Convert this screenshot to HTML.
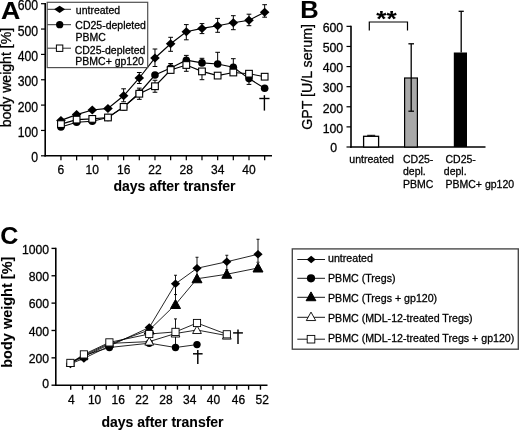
<!DOCTYPE html>
<html><head><meta charset="utf-8"><title>Figure</title>
<style>
html,body{margin:0;padding:0;background:#fff;}
body{width:520px;height:431px;overflow:hidden;font-family:"Liberation Sans",sans-serif;}
svg{display:block;filter:grayscale(1) blur(0.3px);}
svg text{font-family:"Liberation Sans",sans-serif;fill:#000;stroke:#000;stroke-width:0.28px;}
svg text[font-weight=bold]{stroke-width:0.08px;}
</style></head>
<body>
<svg width="520" height="431" viewBox="0 0 520 431">
<rect x="0" y="0" width="520" height="431" fill="#fff"/>
<line x1="45.20" y1="3.10" x2="45.20" y2="156.50" stroke="#000" stroke-width="1.6"/>
<line x1="44.40" y1="155.80" x2="272.00" y2="155.80" stroke="#000" stroke-width="1.6"/>
<line x1="41.00" y1="155.80" x2="45.20" y2="155.80" stroke="#000" stroke-width="1.2"/>
<text transform="translate(38.10,162.30) scale(0.875,1)" font-size="14" text-anchor="end">0</text>
<line x1="41.00" y1="130.45" x2="45.20" y2="130.45" stroke="#000" stroke-width="1.2"/>
<text transform="translate(38.10,136.95) scale(0.875,1)" font-size="14" text-anchor="end">100</text>
<line x1="41.00" y1="105.10" x2="45.20" y2="105.10" stroke="#000" stroke-width="1.2"/>
<text transform="translate(38.10,111.60) scale(0.875,1)" font-size="14" text-anchor="end">200</text>
<line x1="41.00" y1="79.75" x2="45.20" y2="79.75" stroke="#000" stroke-width="1.2"/>
<text transform="translate(38.10,86.25) scale(0.875,1)" font-size="14" text-anchor="end">300</text>
<line x1="41.00" y1="54.40" x2="45.20" y2="54.40" stroke="#000" stroke-width="1.2"/>
<text transform="translate(38.10,60.90) scale(0.875,1)" font-size="14" text-anchor="end">400</text>
<line x1="41.00" y1="29.05" x2="45.20" y2="29.05" stroke="#000" stroke-width="1.2"/>
<text transform="translate(38.10,35.55) scale(0.875,1)" font-size="14" text-anchor="end">500</text>
<line x1="41.00" y1="3.70" x2="45.20" y2="3.70" stroke="#000" stroke-width="1.2"/>
<text transform="translate(38.10,10.20) scale(0.875,1)" font-size="14" text-anchor="end">600</text>
<line x1="60.95" y1="155.80" x2="60.95" y2="160.30" stroke="#000" stroke-width="1.25"/>
<line x1="76.62" y1="155.80" x2="76.62" y2="160.30" stroke="#000" stroke-width="1.25"/>
<line x1="92.29" y1="155.80" x2="92.29" y2="160.30" stroke="#000" stroke-width="1.25"/>
<line x1="107.96" y1="155.80" x2="107.96" y2="160.30" stroke="#000" stroke-width="1.25"/>
<line x1="123.63" y1="155.80" x2="123.63" y2="160.30" stroke="#000" stroke-width="1.25"/>
<line x1="139.30" y1="155.80" x2="139.30" y2="160.30" stroke="#000" stroke-width="1.25"/>
<line x1="154.97" y1="155.80" x2="154.97" y2="160.30" stroke="#000" stroke-width="1.25"/>
<line x1="170.64" y1="155.80" x2="170.64" y2="160.30" stroke="#000" stroke-width="1.25"/>
<line x1="186.31" y1="155.80" x2="186.31" y2="160.30" stroke="#000" stroke-width="1.25"/>
<line x1="201.98" y1="155.80" x2="201.98" y2="160.30" stroke="#000" stroke-width="1.25"/>
<line x1="217.65" y1="155.80" x2="217.65" y2="160.30" stroke="#000" stroke-width="1.25"/>
<line x1="233.32" y1="155.80" x2="233.32" y2="160.30" stroke="#000" stroke-width="1.25"/>
<line x1="248.99" y1="155.80" x2="248.99" y2="160.30" stroke="#000" stroke-width="1.25"/>
<line x1="264.66" y1="155.80" x2="264.66" y2="160.30" stroke="#000" stroke-width="1.25"/>
<text transform="translate(60.95,173.90) scale(0.9,1)" font-size="13.4" text-anchor="middle">6</text>
<text transform="translate(92.29,173.90) scale(0.9,1)" font-size="13.4" text-anchor="middle">10</text>
<text transform="translate(123.63,173.90) scale(0.9,1)" font-size="13.4" text-anchor="middle">16</text>
<text transform="translate(154.97,173.90) scale(0.9,1)" font-size="13.4" text-anchor="middle">22</text>
<text transform="translate(186.31,173.90) scale(0.9,1)" font-size="13.4" text-anchor="middle">28</text>
<text transform="translate(217.65,173.90) scale(0.9,1)" font-size="13.4" text-anchor="middle">34</text>
<text transform="translate(248.99,173.90) scale(0.9,1)" font-size="13.4" text-anchor="middle">40</text>
<text x="174.50" y="191.40" font-size="14" text-anchor="middle" font-weight="bold" >days after transfer</text>
<text x="11.10" y="77.60" font-size="14.1" text-anchor="middle" transform="rotate(-90 11.1 77.6)">body weight [%]</text>
<text transform="translate(1.00,18.60) scale(1.09,1)" font-size="24.5" text-anchor="start" font-weight="bold">A</text>
<polyline points="60.95,120.40 76.62,114.60 92.29,110.00 107.96,108.40 123.63,95.80 139.30,78.00 154.97,58.00 170.64,43.80 186.31,31.80 201.98,28.40 217.65,25.80 233.32,22.70 248.99,20.20 264.66,12.20" fill="none" stroke="#000" stroke-width="1.15"/>
<polyline points="60.95,127.00 76.62,122.30 92.29,121.20 107.96,117.50 123.63,107.00 139.30,93.00 154.97,75.00 170.64,68.00 186.31,60.20 201.98,62.90 217.65,64.00 233.32,67.30 248.99,78.60 264.66,88.20" fill="none" stroke="#000" stroke-width="1.15"/>
<polyline points="60.95,124.10 76.62,119.60 92.29,118.90 107.96,117.50 123.63,106.90 139.30,93.75 154.97,86.25 170.64,70.00 186.31,65.00 201.98,71.40 217.65,75.60 233.32,72.50 248.99,73.70 264.66,76.70" fill="none" stroke="#000" stroke-width="1.15"/>
<line x1="123.63" y1="95.80" x2="123.63" y2="88.80" stroke="#000" stroke-width="1.0"/>
<line x1="121.28" y1="88.80" x2="125.98" y2="88.80" stroke="#000" stroke-width="1.0"/>
<line x1="123.63" y1="95.80" x2="123.63" y2="101.80" stroke="#000" stroke-width="1.0"/>
<line x1="121.28" y1="101.80" x2="125.98" y2="101.80" stroke="#000" stroke-width="1.0"/>
<line x1="139.30" y1="78.00" x2="139.30" y2="72.50" stroke="#000" stroke-width="1.0"/>
<line x1="136.95" y1="72.50" x2="141.65" y2="72.50" stroke="#000" stroke-width="1.0"/>
<line x1="139.30" y1="78.00" x2="139.30" y2="83.50" stroke="#000" stroke-width="1.0"/>
<line x1="136.95" y1="83.50" x2="141.65" y2="83.50" stroke="#000" stroke-width="1.0"/>
<line x1="154.97" y1="58.00" x2="154.97" y2="49.00" stroke="#000" stroke-width="1.0"/>
<line x1="152.62" y1="49.00" x2="157.32" y2="49.00" stroke="#000" stroke-width="1.0"/>
<line x1="154.97" y1="58.00" x2="154.97" y2="66.50" stroke="#000" stroke-width="1.0"/>
<line x1="152.62" y1="66.50" x2="157.32" y2="66.50" stroke="#000" stroke-width="1.0"/>
<line x1="170.64" y1="43.80" x2="170.64" y2="37.30" stroke="#000" stroke-width="1.0"/>
<line x1="168.29" y1="37.30" x2="172.99" y2="37.30" stroke="#000" stroke-width="1.0"/>
<line x1="170.64" y1="43.80" x2="170.64" y2="51.30" stroke="#000" stroke-width="1.0"/>
<line x1="168.29" y1="51.30" x2="172.99" y2="51.30" stroke="#000" stroke-width="1.0"/>
<line x1="186.31" y1="31.80" x2="186.31" y2="24.60" stroke="#000" stroke-width="1.0"/>
<line x1="183.96" y1="24.60" x2="188.66" y2="24.60" stroke="#000" stroke-width="1.0"/>
<line x1="186.31" y1="31.80" x2="186.31" y2="39.80" stroke="#000" stroke-width="1.0"/>
<line x1="183.96" y1="39.80" x2="188.66" y2="39.80" stroke="#000" stroke-width="1.0"/>
<line x1="201.98" y1="28.40" x2="201.98" y2="23.60" stroke="#000" stroke-width="1.0"/>
<line x1="199.63" y1="23.60" x2="204.33" y2="23.60" stroke="#000" stroke-width="1.0"/>
<line x1="201.98" y1="28.40" x2="201.98" y2="33.60" stroke="#000" stroke-width="1.0"/>
<line x1="199.63" y1="33.60" x2="204.33" y2="33.60" stroke="#000" stroke-width="1.0"/>
<line x1="217.65" y1="25.80" x2="217.65" y2="18.40" stroke="#000" stroke-width="1.0"/>
<line x1="215.30" y1="18.40" x2="220.00" y2="18.40" stroke="#000" stroke-width="1.0"/>
<line x1="217.65" y1="25.80" x2="217.65" y2="32.30" stroke="#000" stroke-width="1.0"/>
<line x1="215.30" y1="32.30" x2="220.00" y2="32.30" stroke="#000" stroke-width="1.0"/>
<line x1="233.32" y1="22.70" x2="233.32" y2="15.70" stroke="#000" stroke-width="1.0"/>
<line x1="230.97" y1="15.70" x2="235.67" y2="15.70" stroke="#000" stroke-width="1.0"/>
<line x1="233.32" y1="22.70" x2="233.32" y2="29.70" stroke="#000" stroke-width="1.0"/>
<line x1="230.97" y1="29.70" x2="235.67" y2="29.70" stroke="#000" stroke-width="1.0"/>
<line x1="248.99" y1="20.20" x2="248.99" y2="14.20" stroke="#000" stroke-width="1.0"/>
<line x1="246.64" y1="14.20" x2="251.34" y2="14.20" stroke="#000" stroke-width="1.0"/>
<line x1="248.99" y1="20.20" x2="248.99" y2="25.70" stroke="#000" stroke-width="1.0"/>
<line x1="246.64" y1="25.70" x2="251.34" y2="25.70" stroke="#000" stroke-width="1.0"/>
<line x1="264.66" y1="12.20" x2="264.66" y2="4.70" stroke="#000" stroke-width="1.0"/>
<line x1="262.31" y1="4.70" x2="267.01" y2="4.70" stroke="#000" stroke-width="1.0"/>
<line x1="264.66" y1="12.20" x2="264.66" y2="17.20" stroke="#000" stroke-width="1.0"/>
<line x1="262.31" y1="17.20" x2="267.01" y2="17.20" stroke="#000" stroke-width="1.0"/>
<line x1="170.64" y1="68.00" x2="170.64" y2="63.50" stroke="#000" stroke-width="1.0"/>
<line x1="168.29" y1="63.50" x2="172.99" y2="63.50" stroke="#000" stroke-width="1.0"/>
<line x1="186.31" y1="60.20" x2="186.31" y2="55.40" stroke="#000" stroke-width="1.0"/>
<line x1="183.96" y1="55.40" x2="188.66" y2="55.40" stroke="#000" stroke-width="1.0"/>
<line x1="201.98" y1="62.90" x2="201.98" y2="58.30" stroke="#000" stroke-width="1.0"/>
<line x1="199.63" y1="58.30" x2="204.33" y2="58.30" stroke="#000" stroke-width="1.0"/>
<line x1="217.65" y1="64.00" x2="217.65" y2="52.30" stroke="#000" stroke-width="1.0"/>
<line x1="215.30" y1="52.30" x2="220.00" y2="52.30" stroke="#000" stroke-width="1.0"/>
<line x1="233.32" y1="67.30" x2="233.32" y2="58.70" stroke="#000" stroke-width="1.0"/>
<line x1="230.97" y1="58.70" x2="235.67" y2="58.70" stroke="#000" stroke-width="1.0"/>
<line x1="248.99" y1="78.60" x2="248.99" y2="84.40" stroke="#000" stroke-width="1.0"/>
<line x1="246.64" y1="84.40" x2="251.34" y2="84.40" stroke="#000" stroke-width="1.0"/>
<line x1="139.30" y1="93.75" x2="139.30" y2="88.15" stroke="#000" stroke-width="1.0"/>
<line x1="136.95" y1="88.15" x2="141.65" y2="88.15" stroke="#000" stroke-width="1.0"/>
<line x1="139.30" y1="93.75" x2="139.30" y2="99.35" stroke="#000" stroke-width="1.0"/>
<line x1="136.95" y1="99.35" x2="141.65" y2="99.35" stroke="#000" stroke-width="1.0"/>
<line x1="154.97" y1="86.25" x2="154.97" y2="80.25" stroke="#000" stroke-width="1.0"/>
<line x1="152.62" y1="80.25" x2="157.32" y2="80.25" stroke="#000" stroke-width="1.0"/>
<line x1="154.97" y1="86.25" x2="154.97" y2="92.25" stroke="#000" stroke-width="1.0"/>
<line x1="152.62" y1="92.25" x2="157.32" y2="92.25" stroke="#000" stroke-width="1.0"/>
<line x1="186.31" y1="65.00" x2="186.31" y2="71.30" stroke="#000" stroke-width="1.0"/>
<line x1="183.96" y1="71.30" x2="188.66" y2="71.30" stroke="#000" stroke-width="1.0"/>
<line x1="201.98" y1="71.40" x2="201.98" y2="79.70" stroke="#000" stroke-width="1.0"/>
<line x1="199.63" y1="79.70" x2="204.33" y2="79.70" stroke="#000" stroke-width="1.0"/>
<polygon points="56.15,120.40 60.95,115.89 65.75,120.40 60.95,124.91" fill="#000"/>
<polygon points="71.82,114.60 76.62,110.09 81.42,114.60 76.62,119.11" fill="#000"/>
<polygon points="87.49,110.00 92.29,105.49 97.09,110.00 92.29,114.51" fill="#000"/>
<polygon points="103.16,108.40 107.96,103.89 112.76,108.40 107.96,112.91" fill="#000"/>
<polygon points="118.83,95.80 123.63,91.29 128.43,95.80 123.63,100.31" fill="#000"/>
<polygon points="134.50,78.00 139.30,73.49 144.10,78.00 139.30,82.51" fill="#000"/>
<polygon points="150.17,58.00 154.97,53.49 159.77,58.00 154.97,62.51" fill="#000"/>
<polygon points="165.84,43.80 170.64,39.29 175.44,43.80 170.64,48.31" fill="#000"/>
<polygon points="181.51,31.80 186.31,27.29 191.11,31.80 186.31,36.31" fill="#000"/>
<polygon points="197.18,28.40 201.98,23.89 206.78,28.40 201.98,32.91" fill="#000"/>
<polygon points="212.85,25.80 217.65,21.29 222.45,25.80 217.65,30.31" fill="#000"/>
<polygon points="228.52,22.70 233.32,18.19 238.12,22.70 233.32,27.21" fill="#000"/>
<polygon points="244.19,20.20 248.99,15.69 253.79,20.20 248.99,24.71" fill="#000"/>
<polygon points="259.86,12.20 264.66,7.69 269.46,12.20 264.66,16.71" fill="#000"/>
<circle cx="60.95" cy="127.00" r="3.8" fill="#000"/>
<circle cx="76.62" cy="122.30" r="3.8" fill="#000"/>
<circle cx="92.29" cy="121.20" r="3.8" fill="#000"/>
<circle cx="107.96" cy="117.50" r="3.8" fill="#000"/>
<circle cx="123.63" cy="107.00" r="3.8" fill="#000"/>
<circle cx="139.30" cy="93.00" r="3.8" fill="#000"/>
<circle cx="154.97" cy="75.00" r="3.8" fill="#000"/>
<circle cx="170.64" cy="68.00" r="3.8" fill="#000"/>
<circle cx="186.31" cy="60.20" r="3.8" fill="#000"/>
<circle cx="201.98" cy="62.90" r="3.8" fill="#000"/>
<circle cx="217.65" cy="64.00" r="3.8" fill="#000"/>
<circle cx="233.32" cy="67.30" r="3.8" fill="#000"/>
<circle cx="248.99" cy="78.60" r="3.8" fill="#000"/>
<circle cx="264.66" cy="88.20" r="3.8" fill="#000"/>
<rect x="57.60" y="120.75" width="6.7" height="6.7" fill="#fff" stroke="#000" stroke-width="1.1"/>
<rect x="73.27" y="116.25" width="6.7" height="6.7" fill="#fff" stroke="#000" stroke-width="1.1"/>
<rect x="88.94" y="115.55" width="6.7" height="6.7" fill="#fff" stroke="#000" stroke-width="1.1"/>
<rect x="104.61" y="114.15" width="6.7" height="6.7" fill="#fff" stroke="#000" stroke-width="1.1"/>
<rect x="120.28" y="103.55" width="6.7" height="6.7" fill="#fff" stroke="#000" stroke-width="1.1"/>
<rect x="135.95" y="90.40" width="6.7" height="6.7" fill="#fff" stroke="#000" stroke-width="1.1"/>
<rect x="151.62" y="82.90" width="6.7" height="6.7" fill="#fff" stroke="#000" stroke-width="1.1"/>
<rect x="167.29" y="66.65" width="6.7" height="6.7" fill="#fff" stroke="#000" stroke-width="1.1"/>
<rect x="182.96" y="61.65" width="6.7" height="6.7" fill="#fff" stroke="#000" stroke-width="1.1"/>
<rect x="198.63" y="68.05" width="6.7" height="6.7" fill="#fff" stroke="#000" stroke-width="1.1"/>
<rect x="214.30" y="72.25" width="6.7" height="6.7" fill="#fff" stroke="#000" stroke-width="1.1"/>
<rect x="229.97" y="69.15" width="6.7" height="6.7" fill="#fff" stroke="#000" stroke-width="1.1"/>
<rect x="245.64" y="70.35" width="6.7" height="6.7" fill="#fff" stroke="#000" stroke-width="1.1"/>
<rect x="261.31" y="73.35" width="6.7" height="6.7" fill="#fff" stroke="#000" stroke-width="1.1"/>
<line x1="264.40" y1="95.20" x2="264.40" y2="110.60" stroke="#000" stroke-width="1.4"/>
<line x1="259.30" y1="98.50" x2="269.50" y2="98.50" stroke="#000" stroke-width="1.4"/>
<rect x="47.2" y="2.3" width="100.5" height="65.3" fill="#fff" stroke="#505050" stroke-width="1.2"/>
<line x1="47.50" y1="9.30" x2="71.00" y2="9.30" stroke="#222" stroke-width="0.95"/>
<polygon points="54.10,9.30 59.60,5.70 65.10,9.30 59.60,12.90" fill="#000"/>
<line x1="47.50" y1="24.70" x2="71.00" y2="24.70" stroke="#222" stroke-width="0.95"/>
<circle cx="59.70" cy="24.70" r="3.65" fill="#000"/>
<line x1="47.50" y1="48.20" x2="71.00" y2="48.20" stroke="#222" stroke-width="0.95"/>
<rect x="56.40" y="45.00" width="6.4" height="6.4" fill="#fff" stroke="#000" stroke-width="1.0"/>
<text x="75.80" y="13.90" font-size="10.5" text-anchor="start" >untreated</text>
<text x="75.30" y="28.70" font-size="10.5" text-anchor="start" >CD25-depleted</text>
<text x="75.60" y="41.20" font-size="10.5" text-anchor="start" >PBMC</text>
<text x="74.70" y="54.00" font-size="10.5" text-anchor="start" >CD25-depleted</text>
<text x="75.30" y="65.40" font-size="10.5" text-anchor="start" >PBMC+ gp120</text>
<line x1="351.00" y1="25.75" x2="351.00" y2="147.70" stroke="#000" stroke-width="1.6"/>
<line x1="350.20" y1="147.00" x2="485.50" y2="147.00" stroke="#000" stroke-width="1.6"/>
<line x1="346.50" y1="147.00" x2="351.00" y2="147.00" stroke="#000" stroke-width="1.2"/>
<text x="337.20" y="152.20" font-size="12.3" text-anchor="end" >0</text>
<line x1="346.50" y1="126.89" x2="351.00" y2="126.89" stroke="#000" stroke-width="1.2"/>
<text x="343.20" y="132.69" font-size="12.3" text-anchor="end" >100</text>
<line x1="346.50" y1="106.78" x2="351.00" y2="106.78" stroke="#000" stroke-width="1.2"/>
<text x="343.20" y="112.58" font-size="12.3" text-anchor="end" >200</text>
<line x1="346.50" y1="86.67" x2="351.00" y2="86.67" stroke="#000" stroke-width="1.2"/>
<text x="343.20" y="92.47" font-size="12.3" text-anchor="end" >300</text>
<line x1="346.50" y1="66.57" x2="351.00" y2="66.57" stroke="#000" stroke-width="1.2"/>
<text x="343.20" y="72.37" font-size="12.3" text-anchor="end" >400</text>
<line x1="346.50" y1="46.46" x2="351.00" y2="46.46" stroke="#000" stroke-width="1.2"/>
<text x="343.20" y="52.26" font-size="12.3" text-anchor="end" >500</text>
<line x1="346.50" y1="26.35" x2="351.00" y2="26.35" stroke="#000" stroke-width="1.2"/>
<text x="343.20" y="32.15" font-size="12.3" text-anchor="end" >600</text>
<text x="312.30" y="76.90" font-size="14.2" text-anchor="middle" transform="rotate(-90 312.3 76.9)">GPT [U/L serum]</text>
<text transform="translate(300.30,17.70) scale(1.04,1)" font-size="24.5" text-anchor="start" font-weight="bold">B</text>
<rect x="363.6" y="136.3" width="15" height="10.70" fill="#fff" stroke="#000" stroke-width="1.3"/>
<line x1="371.20" y1="136.30" x2="371.20" y2="135.30" stroke="#000" stroke-width="1"/>
<line x1="367.20" y1="135.30" x2="375.20" y2="135.30" stroke="#000" stroke-width="1"/>
<rect x="404.6" y="78" width="12.8" height="69.00" fill="#a9a9a9" stroke="#000" stroke-width="1.2"/>
<line x1="411.20" y1="78.00" x2="411.20" y2="43.80" stroke="#000" stroke-width="1.3"/>
<line x1="408.40" y1="43.80" x2="414.00" y2="43.80" stroke="#000" stroke-width="1.3"/>
<line x1="411.20" y1="78.00" x2="411.20" y2="111.20" stroke="#000" stroke-width="1.3"/>
<line x1="408.40" y1="111.20" x2="414.00" y2="111.20" stroke="#000" stroke-width="1.3"/>
<rect x="453.8" y="52.5" width="13.2" height="94.50" fill="#000"/>
<line x1="461.20" y1="52.50" x2="461.20" y2="11.30" stroke="#000" stroke-width="1.3"/>
<line x1="458.60" y1="11.30" x2="463.80" y2="11.30" stroke="#000" stroke-width="1.3"/>
<polyline points="369.30,30.50 369.30,22.00 407.50,22.00 407.50,30.50" fill="none" stroke="#000" stroke-width="1.2"/>
<text transform="translate(386.40,26.00) scale(1.22,1)" font-size="21.5" text-anchor="middle" font-weight="bold">**</text>
<text x="349.30" y="162.50" font-size="10.55" text-anchor="start" >untreated</text>
<text x="403.00" y="162.50" font-size="10.5" text-anchor="start" >CD25-</text>
<text x="403.00" y="175.00" font-size="10.5" text-anchor="start" >depl.</text>
<text x="403.00" y="188.00" font-size="10.5" text-anchor="start" >PBMC</text>
<text x="445.50" y="162.50" font-size="10.5" text-anchor="start" >CD25-</text>
<text x="443.80" y="175.00" font-size="10.5" text-anchor="start" >depl.</text>
<text x="445.50" y="188.00" font-size="10.5" text-anchor="start" >PBMC+ gp120</text>
<line x1="55.80" y1="247.80" x2="55.80" y2="385.90" stroke="#000" stroke-width="1.6"/>
<line x1="55.00" y1="385.20" x2="267.50" y2="385.20" stroke="#000" stroke-width="1.6"/>
<line x1="51.50" y1="385.20" x2="55.80" y2="385.20" stroke="#000" stroke-width="1.35"/>
<text x="49.10" y="388.10" font-size="12.2" text-anchor="end" >0</text>
<line x1="51.50" y1="357.84" x2="55.80" y2="357.84" stroke="#000" stroke-width="1.35"/>
<text x="49.10" y="363.04" font-size="12.2" text-anchor="end" >200</text>
<line x1="51.50" y1="330.48" x2="55.80" y2="330.48" stroke="#000" stroke-width="1.35"/>
<text x="49.10" y="335.68" font-size="12.2" text-anchor="end" >400</text>
<line x1="51.50" y1="303.12" x2="55.80" y2="303.12" stroke="#000" stroke-width="1.35"/>
<text x="49.10" y="308.32" font-size="12.2" text-anchor="end" >600</text>
<line x1="51.50" y1="275.76" x2="55.80" y2="275.76" stroke="#000" stroke-width="1.35"/>
<text x="49.10" y="280.96" font-size="12.2" text-anchor="end" >800</text>
<line x1="51.50" y1="248.40" x2="55.80" y2="248.40" stroke="#000" stroke-width="1.35"/>
<text x="49.10" y="253.60" font-size="12.2" text-anchor="end" >1000</text>
<line x1="70.70" y1="385.20" x2="70.70" y2="389.70" stroke="#000" stroke-width="1.35"/>
<line x1="82.56" y1="385.20" x2="82.56" y2="389.70" stroke="#000" stroke-width="1.35"/>
<line x1="94.42" y1="385.20" x2="94.42" y2="389.70" stroke="#000" stroke-width="1.35"/>
<line x1="106.28" y1="385.20" x2="106.28" y2="389.70" stroke="#000" stroke-width="1.35"/>
<line x1="118.14" y1="385.20" x2="118.14" y2="389.70" stroke="#000" stroke-width="1.35"/>
<line x1="130.00" y1="385.20" x2="130.00" y2="389.70" stroke="#000" stroke-width="1.35"/>
<line x1="141.86" y1="385.20" x2="141.86" y2="389.70" stroke="#000" stroke-width="1.35"/>
<line x1="153.72" y1="385.20" x2="153.72" y2="389.70" stroke="#000" stroke-width="1.35"/>
<line x1="165.58" y1="385.20" x2="165.58" y2="389.70" stroke="#000" stroke-width="1.35"/>
<line x1="177.44" y1="385.20" x2="177.44" y2="389.70" stroke="#000" stroke-width="1.35"/>
<line x1="189.30" y1="385.20" x2="189.30" y2="389.70" stroke="#000" stroke-width="1.35"/>
<line x1="201.16" y1="385.20" x2="201.16" y2="389.70" stroke="#000" stroke-width="1.35"/>
<line x1="213.02" y1="385.20" x2="213.02" y2="389.70" stroke="#000" stroke-width="1.35"/>
<line x1="224.88" y1="385.20" x2="224.88" y2="389.70" stroke="#000" stroke-width="1.35"/>
<line x1="236.74" y1="385.20" x2="236.74" y2="389.70" stroke="#000" stroke-width="1.35"/>
<line x1="248.60" y1="385.20" x2="248.60" y2="389.70" stroke="#000" stroke-width="1.35"/>
<line x1="260.46" y1="385.20" x2="260.46" y2="389.70" stroke="#000" stroke-width="1.35"/>
<text x="71.30" y="403.70" font-size="12" text-anchor="middle" >4</text>
<text x="94.62" y="403.70" font-size="12" text-anchor="middle" >10</text>
<text x="118.24" y="403.70" font-size="12" text-anchor="middle" >16</text>
<text x="141.96" y="403.70" font-size="12" text-anchor="middle" >22</text>
<text x="165.98" y="403.70" font-size="12" text-anchor="middle" >28</text>
<text x="189.80" y="403.70" font-size="12" text-anchor="middle" >34</text>
<text x="213.52" y="403.70" font-size="12" text-anchor="middle" >40</text>
<text x="238.54" y="403.70" font-size="12" text-anchor="middle" >46</text>
<text x="262.26" y="403.70" font-size="12" text-anchor="middle" >52</text>
<text x="162.50" y="427.30" font-size="14" text-anchor="middle" font-weight="bold" >days after transfer</text>
<text x="11.60" y="312.20" font-size="14.5" text-anchor="middle" font-weight="bold" transform="rotate(-90 11.6 312.2)">body weight [%]</text>
<text transform="translate(0.30,243.60) scale(1.03,1)" font-size="24.3" text-anchor="start" font-weight="bold">C</text>
<polyline points="70.40,363.90 83.90,358.40 109.40,346.00 149.25,327.50 175.50,283.75 197.00,268.25 226.80,261.75 258.00,254.25" fill="none" stroke="#000" stroke-width="0.85"/>
<polyline points="70.40,363.30 83.90,356.60 109.40,344.40 149.25,330.00 175.50,304.50 197.00,278.75 226.80,274.25 258.00,268.00" fill="none" stroke="#000" stroke-width="0.85"/>
<polyline points="70.40,363.00 83.90,355.50 109.40,347.50 149.25,343.20 175.50,347.50 197.00,344.60" fill="none" stroke="#000" stroke-width="0.85"/>
<polyline points="70.40,363.10 83.90,355.40 109.40,343.40 149.25,341.60 175.50,333.50 197.00,330.00 226.80,335.60" fill="none" stroke="#000" stroke-width="0.85"/>
<polyline points="70.40,362.90 83.90,354.40 109.40,342.40 149.25,334.00 175.50,331.90 197.00,323.00 226.80,334.30" fill="none" stroke="#000" stroke-width="0.85"/>
<line x1="175.50" y1="283.75" x2="175.50" y2="275.25" stroke="#000" stroke-width="0.9"/>
<line x1="174.00" y1="275.25" x2="177.00" y2="275.25" stroke="#000" stroke-width="0.9"/>
<line x1="175.50" y1="283.75" x2="175.50" y2="294.55" stroke="#000" stroke-width="0.9"/>
<line x1="174.00" y1="294.55" x2="177.00" y2="294.55" stroke="#000" stroke-width="0.9"/>
<line x1="175.50" y1="283.75" x2="175.50" y2="304.50" stroke="#000" stroke-width="0.9"/>
<line x1="197.00" y1="268.25" x2="197.00" y2="257.25" stroke="#000" stroke-width="0.9"/>
<line x1="195.50" y1="257.25" x2="198.50" y2="257.25" stroke="#000" stroke-width="0.9"/>
<line x1="197.00" y1="268.25" x2="197.00" y2="276.25" stroke="#000" stroke-width="0.9"/>
<line x1="195.50" y1="276.25" x2="198.50" y2="276.25" stroke="#000" stroke-width="0.9"/>
<line x1="226.80" y1="261.75" x2="226.80" y2="255.25" stroke="#000" stroke-width="0.9"/>
<line x1="225.30" y1="255.25" x2="228.30" y2="255.25" stroke="#000" stroke-width="0.9"/>
<line x1="226.80" y1="261.75" x2="226.80" y2="269.75" stroke="#000" stroke-width="0.9"/>
<line x1="225.30" y1="269.75" x2="228.30" y2="269.75" stroke="#000" stroke-width="0.9"/>
<line x1="258.00" y1="254.25" x2="258.00" y2="239.25" stroke="#000" stroke-width="0.9"/>
<line x1="256.50" y1="239.25" x2="259.50" y2="239.25" stroke="#000" stroke-width="0.9"/>
<line x1="258.00" y1="254.25" x2="258.00" y2="262.25" stroke="#000" stroke-width="0.9"/>
<line x1="256.50" y1="262.25" x2="259.50" y2="262.25" stroke="#000" stroke-width="0.9"/>
<line x1="175.50" y1="331.90" x2="175.50" y2="318.90" stroke="#000" stroke-width="0.9"/>
<line x1="174.00" y1="318.90" x2="177.00" y2="318.90" stroke="#000" stroke-width="0.9"/>
<line x1="175.50" y1="331.90" x2="175.50" y2="344.90" stroke="#000" stroke-width="0.9"/>
<line x1="174.00" y1="344.90" x2="177.00" y2="344.90" stroke="#000" stroke-width="0.9"/>
<circle cx="70.40" cy="363.00" r="3.7" fill="#000"/>
<circle cx="83.90" cy="355.50" r="3.7" fill="#000"/>
<circle cx="109.40" cy="347.50" r="3.7" fill="#000"/>
<circle cx="149.25" cy="343.20" r="3.7" fill="#000"/>
<circle cx="175.50" cy="347.50" r="3.7" fill="#000"/>
<circle cx="197.00" cy="344.60" r="3.7" fill="#000"/>
<polygon points="65.80,363.90 70.40,359.58 75.00,363.90 70.40,368.22" fill="#000"/>
<polygon points="79.30,358.40 83.90,354.08 88.50,358.40 83.90,362.72" fill="#000"/>
<polygon points="104.80,346.00 109.40,341.68 114.00,346.00 109.40,350.32" fill="#000"/>
<polygon points="144.65,327.50 149.25,323.18 153.85,327.50 149.25,331.82" fill="#000"/>
<polygon points="170.90,283.75 175.50,279.43 180.10,283.75 175.50,288.07" fill="#000"/>
<polygon points="192.40,268.25 197.00,263.93 201.60,268.25 197.00,272.57" fill="#000"/>
<polygon points="222.20,261.75 226.80,257.43 231.40,261.75 226.80,266.07" fill="#000"/>
<polygon points="253.40,254.25 258.00,249.93 262.60,254.25 258.00,258.57" fill="#000"/>
<polygon points="66.50,366.42 74.30,366.42 70.40,359.40" fill="#000" stroke="#000" stroke-width="1.0"/>
<polygon points="80.00,359.72 87.80,359.72 83.90,352.70" fill="#000" stroke="#000" stroke-width="1.0"/>
<polygon points="105.50,347.52 113.30,347.52 109.40,340.50" fill="#000" stroke="#000" stroke-width="1.0"/>
<polygon points="144.25,334.00 154.25,334.00 149.25,325.00" fill="#000" stroke="#000" stroke-width="1.0"/>
<polygon points="170.50,308.50 180.50,308.50 175.50,299.50" fill="#000" stroke="#000" stroke-width="1.0"/>
<polygon points="192.00,282.75 202.00,282.75 197.00,273.75" fill="#000" stroke="#000" stroke-width="1.0"/>
<polygon points="221.80,278.25 231.80,278.25 226.80,269.25" fill="#000" stroke="#000" stroke-width="1.0"/>
<polygon points="253.00,272.00 263.00,272.00 258.00,263.00" fill="#000" stroke="#000" stroke-width="1.0"/>
<polygon points="66.60,366.14 74.20,366.14 70.40,359.30" fill="#fff" stroke="#000" stroke-width="0.9"/>
<polygon points="80.10,358.44 87.70,358.44 83.90,351.60" fill="#fff" stroke="#000" stroke-width="0.9"/>
<polygon points="105.60,346.44 113.20,346.44 109.40,339.60" fill="#fff" stroke="#000" stroke-width="0.9"/>
<polygon points="144.85,345.12 153.65,345.12 149.25,337.20" fill="#fff" stroke="#000" stroke-width="0.9"/>
<polygon points="171.10,337.02 179.90,337.02 175.50,329.10" fill="#fff" stroke="#000" stroke-width="0.9"/>
<polygon points="192.60,333.52 201.40,333.52 197.00,325.60" fill="#fff" stroke="#000" stroke-width="0.9"/>
<polygon points="222.40,339.12 231.20,339.12 226.80,331.20" fill="#fff" stroke="#000" stroke-width="0.9"/>
<rect x="66.80" y="359.30" width="7.2" height="7.2" fill="#fff" stroke="#000" stroke-width="0.9"/>
<rect x="80.30" y="350.80" width="7.2" height="7.2" fill="#fff" stroke="#000" stroke-width="0.9"/>
<rect x="105.80" y="338.80" width="7.2" height="7.2" fill="#fff" stroke="#000" stroke-width="0.9"/>
<rect x="145.65" y="330.40" width="7.2" height="7.2" fill="#fff" stroke="#000" stroke-width="0.9"/>
<rect x="171.90" y="328.30" width="7.2" height="7.2" fill="#fff" stroke="#000" stroke-width="0.9"/>
<rect x="193.40" y="319.40" width="7.2" height="7.2" fill="#fff" stroke="#000" stroke-width="0.9"/>
<rect x="223.20" y="330.70" width="7.2" height="7.2" fill="#fff" stroke="#000" stroke-width="0.9"/>
<line x1="197.80" y1="350.10" x2="197.80" y2="364.10" stroke="#000" stroke-width="1.45"/>
<line x1="193.00" y1="353.80" x2="202.60" y2="353.80" stroke="#000" stroke-width="1.45"/>
<line x1="238.00" y1="329.40" x2="238.00" y2="343.90" stroke="#000" stroke-width="1.45"/>
<line x1="233.10" y1="332.90" x2="242.90" y2="332.90" stroke="#000" stroke-width="1.45"/>
<rect x="292.3" y="248.9" width="226" height="100.3" fill="#fff" stroke="#444" stroke-width="1.35"/>
<line x1="297.30" y1="259.50" x2="325.00" y2="259.50" stroke="#000" stroke-width="0.9"/>
<polygon points="306.70,259.50 311.20,255.80 315.70,259.50 311.20,263.20" fill="#000"/>
<text x="328.00" y="262.20" font-size="10.63" text-anchor="start" >untreated</text>
<line x1="297.30" y1="278.30" x2="325.00" y2="278.30" stroke="#000" stroke-width="0.9"/>
<circle cx="311.00" cy="278.30" r="4.1" fill="#000"/>
<text x="328.00" y="282.20" font-size="10.63" text-anchor="start" >PBMC (Tregs)</text>
<line x1="297.30" y1="297.30" x2="325.00" y2="297.30" stroke="#000" stroke-width="0.9"/>
<polygon points="306.10,300.72 315.90,300.72 311.00,291.90" fill="#000" stroke="#000" stroke-width="1.0"/>
<text x="328.00" y="301.50" font-size="10.63" text-anchor="start" >PBMC (Tregs + gp120)</text>
<line x1="297.30" y1="317.30" x2="325.00" y2="317.30" stroke="#000" stroke-width="0.9"/>
<polygon points="306.30,320.56 315.70,320.56 311.00,312.10" fill="#fff" stroke="#000" stroke-width="0.9"/>
<text x="328.00" y="321.50" font-size="10.63" text-anchor="start" >PBMC (MDL-12-treated Tregs)</text>
<line x1="297.30" y1="339.20" x2="325.00" y2="339.20" stroke="#000" stroke-width="0.9"/>
<rect x="307.20" y="335.40" width="7.6" height="7.6" fill="#fff" stroke="#000" stroke-width="0.9"/>
<text x="328.00" y="342.20" font-size="10.63" text-anchor="start" >PBMC (MDL-12-treated Tregs + gp120)</text>
</svg>
</body></html>
